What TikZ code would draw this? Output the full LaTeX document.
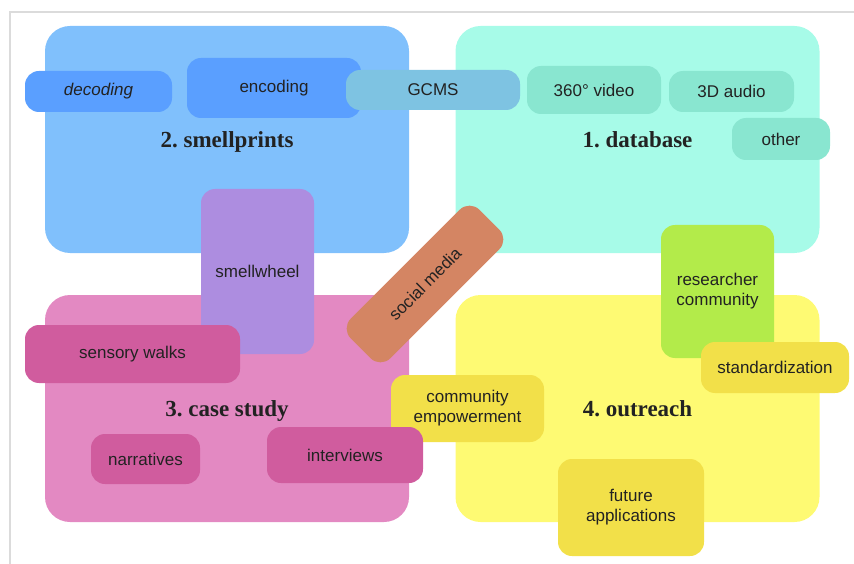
\documentclass[tikz,border=0pt]{standalone}
\usepackage{fontspec}
\setmainfont{Liberation Sans}
\newfontfamily\titlefont{Liberation Serif}
\usepackage{tikz}
\usetikzlibrary{positioning}

\definecolor{smellblue}{HTML}{80C0FC}
\definecolor{datateal}{HTML}{A7FBE8}
\definecolor{casepink}{HTML}{E389C2}
\definecolor{outyellow}{HTML}{FEFA73}
\definecolor{tagblue}{HTML}{5A9FFF}
\definecolor{gcmsblue}{HTML}{7EC3E2}
\definecolor{tagteal}{HTML}{89E6D0}
\definecolor{tagviolet}{HTML}{AD8DE0}
\definecolor{tagpink}{HTML}{D05C9E}
\definecolor{tagorange}{HTML}{D48563}
\definecolor{taggreen}{HTML}{B3EB4A}
\definecolor{tagyellow}{HTML}{F2E049}
\definecolor{inkgray}{HTML}{222222}

\frenchspacing

\begin{document}
\begin{tikzpicture}[
  x=1pt, y=-1pt,
  area/.style={
    rounded corners=25pt,
    inner sep=0pt,
    minimum width=364pt,
    minimum height=227pt,
    text depth=0pt,
    align=center,
    text=inkgray,
    font=\titlefont\bfseries\fontsize{23}{27}\selectfont
  },
  tag/.style={
    rounded corners=14pt,
    inner sep=0pt,
    align=center,
    text=inkgray,
    font=\fontsize{17}{20}\selectfont
  }
]
\useasboundingbox (0,0) rectangle (854,564);

% Frame
\draw[black!14, line width=2pt] (10,564) -- (10,12) -- (854,12);

% Main areas
\node[area, fill=smellblue] (smell) at (227,139.5) {2. smellprints};
\node[area, fill=datateal]  (data)  at (637.5,139.5) {1. database};
\node[area, fill=casepink]  (case)  at (227,408.5) {3. case study};
\node[area, fill=outyellow] (outr)  at (637.5,408.5) {4. outreach};

% Smellprints tags
\node[tag, fill=tagblue, minimum width=147pt, minimum height=41pt]
  (decod) at (98.5,91.5) {\itshape decoding};
\node[tag, fill=tagblue, minimum width=174pt, minimum height=60pt]
  (encod) at (274,88) {encoding};
\node[tag, fill=gcmsblue, minimum width=174pt, minimum height=40pt]
  (gcms) at (433,90) {GCMS};

% Database tags
\node[tag, fill=tagteal, minimum width=134pt, minimum height=48pt]
  (video) at (594,90) {360\textdegree\ video};
\node[tag, fill=tagteal, minimum width=125pt, minimum height=41pt]
  (audio) at (731.5,91.5) {3D audio};
\node[tag, fill=tagteal, minimum width=98pt, minimum height=42pt]
  (other) at (781,139) {other};

% Case study tags
\node[tag, fill=tagviolet, minimum width=113pt, minimum height=165pt]
  (wheel) at (257.5,271.5) {smellwheel};
\node[tag, fill=tagpink, minimum width=215pt, minimum height=58pt]
  (walks) at (132.5,354) {sensory walks};
\node[tag, fill=tagpink, minimum width=109pt, minimum height=50pt]
  (narr) at (145.5,459) {narratives};

% Outreach tags
\node[tag, fill=taggreen, minimum width=113pt, minimum height=133pt]
  (resc) at (717.5,291.5) {researcher\\community};
\node[tag, fill=tagyellow, minimum width=148pt, minimum height=51pt]
  (stand) at (775,367.5) {standardization};
\node[tag, fill=tagyellow, minimum width=153pt, minimum height=67pt]
  (empow) at (467.5,408.5) {community\\empowerment};
\node[tag, fill=tagpink, minimum width=156pt, minimum height=56pt]
  (inter) at (345,455) {interviews};
\node[tag, fill=tagyellow, minimum width=146pt, minimum height=97pt]
  (future) at (631,507.5) {future\\applications};

% Across all areas
\node[tag, fill=tagorange, rotate=45, minimum width=182pt, minimum height=56pt]
  (social) at (425,284) {social media};

\end{tikzpicture}
\end{document}
